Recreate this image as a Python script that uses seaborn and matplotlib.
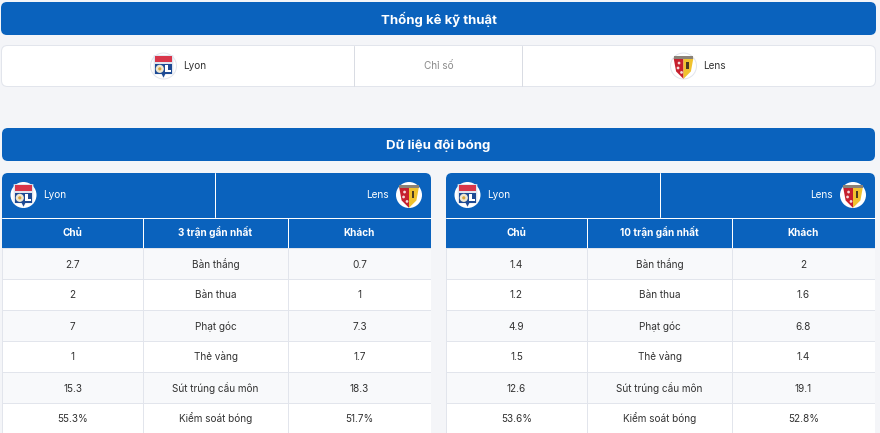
import matplotlib
matplotlib.use("Agg")
import matplotlib.pyplot as plt
from matplotlib.colors import ListedColormap
from matplotlib.patches import Circle, FancyBboxPatch, Polygon, Rectangle
import numpy as np
import seaborn as sns

sns.set_theme(style="white")
plt.rcParams["font.family"] = ["Inter", "DejaVu Sans"]

W, H = 880, 433
BLUE = "#0a62bd"
BG = "#f4f5f8"
LINE = "#e2e5ec"
PX = 0.72  # one pixel line at dpi 100

home_team = "Lyon"
away_team = "Lens"
middle_label = "Chỉ số"
title_top = "Thống kê kỹ thuật"
title_data = "Dữ liệu đội bóng"
stat_names = ["Bàn thắng", "Bàn thua", "Phạt góc", "Thẻ vàng", "Sút trúng cầu môn", "Kiểm soát bóng"]
col_home = "Chủ"
col_away = "Khách"
head_3 = "3 trận gần nhất"
head_10 = "10 trận gần nhất"
home_3 = ["2.7", "2", "7", "1", "15.3", "55.3%"]
away_3 = ["0.7", "1", "7.3", "1.7", "18.3", "51.7%"]
home_10 = ["1.4", "1.2", "4.9", "1.5", "12.6", "53.6%"]
away_10 = ["2", "1.6", "6.8", "1.4", "19.1", "52.8%"]

fig = plt.figure(figsize=(W / 100, H / 100), dpi=100, facecolor=BG)
# whole-figure axes in pixel units for the page furniture
ax = fig.add_axes([0, 0, 1, 1])
ax.set_xlim(0, W)
ax.set_ylim(H, 0)
ax.axis("off")


def rounded(x0, y0, x1, y1, color, r=6, edge="none", z=1):
    ax.add_patch(FancyBboxPatch((x0 + r, y0 + r), x1 - x0 - 2 * r, y1 - y0 - 2 * r,
                                boxstyle=f"round,pad={r},rounding_size={r}",
                                fc=color, ec=edge, lw=PX, zorder=z))


def lyon_logo(cx, cy, r, ring=None):
    ax.add_patch(Circle((cx, cy), r, fc="white", ec=ring or "none", lw=PX, zorder=5))
    s = r * 0.68
    # shield: white outline, red band on top, blue body with a badge and an L
    ax.add_patch(Polygon([(cx - s - 1, cy - s - 2), (cx + s + 1, cy - s - 2), (cx + s + 1, cy + s * 0.95),
                          (cx + 2, cy + s * 0.95), (cx, cy + s * 1.45), (cx - 2, cy + s * 0.95),
                          (cx - s - 1, cy + s * 0.95)], fc="#dfe4ee", ec="none", zorder=6))
    ax.add_patch(Rectangle((cx - s, cy - s - 1), 2 * s, s * 0.62, fc="#d8364a", ec="none", zorder=7))
    ax.add_patch(Rectangle((cx - s, cy - s * 0.22), 2 * s, s * 1.08, fc="#1d4a94", ec="none", zorder=7))
    ax.add_patch(Polygon([(cx - 2, cy + s * 0.86), (cx + 2, cy + s * 0.86), (cx, cy + s * 1.3)],
                         fc="#1d4a94", ec="none", zorder=7))
    ax.add_patch(Circle((cx - s * 0.42, cy + s * 0.32), s * 0.46, fc="#efe7d0", ec="none", zorder=8))
    ax.add_patch(Circle((cx - s * 0.42, cy + s * 0.32), s * 0.18, fc="#d9a63c", ec="none", zorder=9))
    ax.add_patch(Rectangle((cx + s * 0.2, cy - s * 0.12), s * 0.3, s * 0.85, fc="white", ec="none", zorder=8))
    ax.add_patch(Rectangle((cx + s * 0.2, cy + s * 0.45), s * 0.65, s * 0.28, fc="white", ec="none", zorder=8))


def lens_logo(cx, cy, r, ring=None):
    ax.add_patch(Circle((cx, cy), r, fc="white", ec=ring or "none", lw=PX, zorder=5))
    s = r * 0.76
    ax.add_patch(Polygon([(cx - s, cy - s * 0.8), (cx, cy - s * 0.8), (cx, cy + s * 1.3), (cx - s * 0.75, cy + s * 0.55)],
                         fc="#c6202e", ec="none", zorder=6))
    ax.add_patch(Polygon([(cx, cy - s * 0.8), (cx + s, cy - s * 0.8), (cx + s * 0.75, cy + s * 0.55), (cx, cy + s * 1.3)],
                         fc="#f0c22e", ec="none", zorder=6))
    ax.add_patch(Rectangle((cx - s, cy - s * 1.02), 2 * s, s * 0.3, fc="#8b8378", ec="none", zorder=7))
    # letters on the red half, tower on the yellow half
    for dx, dy in [(-0.45, -0.3), (-0.55, 0.2), (-0.2, 0.65)]:
        ax.add_patch(Circle((cx + s * dx, cy + s * dy), s * 0.14, fc="#f5dcdc", ec="none", zorder=7))
    ax.add_patch(Rectangle((cx + s * 0.3, cy - s * 0.45), s * 0.24, s * 0.8, fc="#4a3b22", ec="none", zorder=7))


# top banner and team card
rounded(1, 2, 876, 35, BLUE)
ax.text(438.5, 24, title_top, color="white", fontsize=9.5, fontweight="bold", ha="center", va="baseline")
rounded(1.5, 45.5, 875.5, 86.5, "white", edge=LINE)
ax.plot([353.5, 353.5], [46, 86], color="#d9dce3", lw=PX, zorder=3)
ax.plot([521.5, 521.5], [46, 86], color="#d9dce3", lw=PX, zorder=3)
lyon_logo(163.5, 66, 13, ring=LINE)
ax.text(183.5, 69, home_team, color="#333333", fontsize=7.2, va="baseline")
ax.text(438.5, 69, middle_label, color="#8a8a8a", fontsize=7.2, ha="center", va="baseline")
lens_logo(683.5, 66, 13, ring=LINE)
ax.text(703.5, 69, away_team, color="#333333", fontsize=7.2, va="baseline")

rounded(2, 128, 875, 161, BLUE)
ax.text(438.5, 149, title_data, color="white", fontsize=9.5, fontweight="bold", ha="center", va="baseline")


def draw_table(x0, x1, split, c1, c2, head_mid, home_vals, away_vals):
    # blue header block, square at the bottom
    rounded(x0, 173, x1, 230, BLUE)
    ax.add_patch(Rectangle((x0, 200), x1 - x0, 48, fc=BLUE, ec="none", zorder=2))
    ax.plot([split + 0.5] * 2, [173, 217], color="white", lw=PX, zorder=3)
    ax.plot([x0, x1], [217.5, 217.5], color="white", lw=PX, zorder=3)
    for c in (c1, c2):
        ax.plot([c + 0.5] * 2, [218, 248], color="white", lw=PX, zorder=3)
    lyon_logo(x0 + 21.5, 195, 13)
    ax.text(x0 + 41.5, 198.3, home_team, color="white", fontsize=7.2, va="baseline", zorder=3)
    lens_logo(x1 - 22, 195, 13)
    ax.text(x1 - 42, 198.3, away_team, color="white", fontsize=7.2, ha="right", va="baseline", zorder=3)
    heads = [col_home, head_mid, col_away]
    edges = [x0, c1 + 0.5, c2 + 0.5, x1]
    columns = [home_vals, stat_names, away_vals]
    for i in range(3):
        ax.text((edges[i] + edges[i + 1]) / 2, 236.3, heads[i], color="white", fontsize=7.2,
                fontweight="bold", ha="center", va="baseline", zorder=3)
        # one heatmap per column so widths can differ, stripes come from the row index
        left, right = edges[i], edges[i + 1]
        top, bottom = 248, 248 + 31 * len(columns[i])
        sub = fig.add_axes([left / W, 1 - bottom / H, (right - left) / W, (bottom - top) / H])
        stripes = np.array([[r % 2] for r in range(len(columns[i]))])
        labels = np.array([[v] for v in columns[i]])
        sns.heatmap(stripes, ax=sub, cmap=ListedColormap(["#f8f9fb", "#ffffff"]), vmin=0, vmax=1,
                    cbar=False, annot=labels, fmt="", linewidths=PX, linecolor=LINE,
                    xticklabels=False, yticklabels=False,
                    annot_kws={"fontsize": 7.2, "color": "#333333"})
        # put the labels on a shared baseline, accents would shift them otherwise
        for t in sub.texts:
            x, y = t.get_position()
            t.set_va("baseline")
            t.set_position((x, y + 4 / 31))
        for spine in sub.spines.values():
            spine.set_visible(False)


draw_table(2, 431, 214.5, 142.5, 287.5, head_3, home_3, away_3)
draw_table(446, 875, 659.5, 586.5, 731.5, head_10, home_10, away_10)

fig.savefig("out.png", dpi=100, facecolor=BG)
